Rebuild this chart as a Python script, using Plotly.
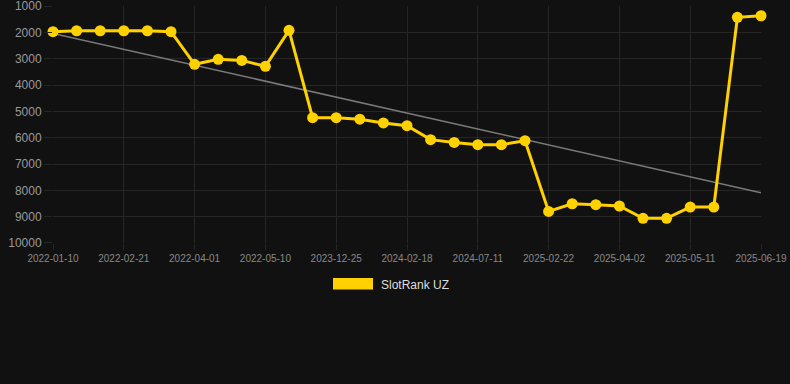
import plotly.graph_objects as go

tick_labels = ["2022-01-10", "2022-02-21", "2022-04-01", "2022-05-10", "2023-12-25",
               "2024-02-18", "2024-07-11", "2025-02-22", "2025-04-02", "2025-05-11", "2025-06-19"]
rank_values = [1975, 1940, 1940, 1940, 1940, 1975, 3215, 3025, 3065, 3290, 1925,
               5240, 5240, 5300, 5440, 5545, 6075, 6180, 6265, 6265, 6115,
               8800, 8510, 8545, 8595, 9065, 9065, 8635, 8635, 1430, 1370]
trend_values = [2040, 8090]
y_ticks = [1000, 2000, 3000, 4000, 5000, 6000, 7000, 8000, 9000, 10000]
series_name = "SlotRank UZ"

n = len(rank_values)
x_idx = list(range(n))
tick_idx = list(range(0, n, 3))

gold = "#FFD100"
grid = "#252525"
bg = "#111111"

fig = go.Figure()
fig.add_trace(go.Scatter(x=[0, n - 1], y=trend_values, mode="lines",
                         line=dict(color="#7a7a7a", width=1.5),
                         showlegend=False, hoverinfo="skip"))
fig.add_trace(go.Scatter(x=x_idx, y=rank_values, mode="lines+markers", name=series_name,
                         line=dict(color=gold, width=3),
                         marker=dict(color=gold, size=11),
                         cliponaxis=False, showlegend=False))

# legend drawn manually as box + text
fig.add_shape(type="rect", xref="paper", yref="paper",
              x0=(333 - 53) / 708, x1=(373 - 53) / 708,
              y0=(243 - 278) / 237, y1=(243 - 289.5) / 237,
              fillcolor=gold, line=dict(width=0))
fig.add_annotation(xref="paper", yref="paper", x=(379 - 53) / 708, y=(243 - 284.5) / 237,
                   text=series_name, showarrow=False, xanchor="left", yanchor="middle",
                   font=dict(color="#dddddd", size=12, family="Liberation Sans, Arial"))

fig.update_layout(
    width=790, height=384,
    margin=dict(l=53, r=29, t=6, b=141, autoexpand=False),
    paper_bgcolor=bg, plot_bgcolor=bg,
    font=dict(family="Liberation Sans, Arial", color="#999999"),
    showlegend=False,
)
fig.update_xaxes(range=[0, n - 1], tickvals=tick_idx, ticktext=tick_labels,
                 showgrid=True, gridcolor=grid, gridwidth=1, zeroline=False,
                 showline=False, ticks="outside", ticklen=6, tickcolor=grid,
                 tickfont=dict(size=10, color="#888888"), tickangle=0,
                 ticklabeloverflow="allow", automargin=False)
fig.update_yaxes(range=[10000.5, 999.5], tickvals=y_ticks, ticktext=[str(v) for v in y_ticks],
                 showgrid=True, gridcolor=grid, gridwidth=1, zeroline=False,
                 showline=False, ticks="outside", ticklen=8, tickcolor=grid,
                 tickfont=dict(size=12, color="#999999"), ticklabeloverflow="allow",
                 automargin=False)

fig.write_html("out.html", config={"displayModeBar": False})

with open("out.html", "r", encoding="utf-8") as f:
    html = f.read()
html = html.replace("<head>", "<head><style>html,body{margin:0;padding:0;background:#111111;}</style>", 1)
with open("out.html", "w", encoding="utf-8") as f:
    f.write(html)
